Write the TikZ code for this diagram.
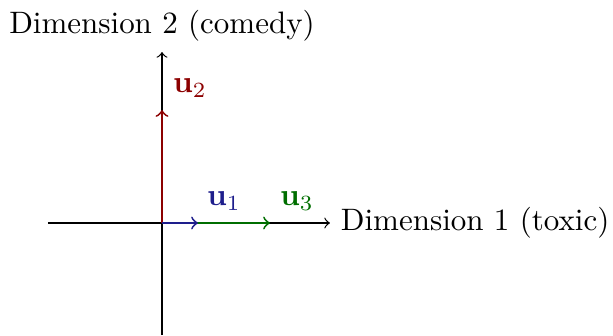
\documentclass[tikz,border=0pt]{standalone}
\usepackage{amsmath}
\definecolor{vred}{RGB}{140,0,0}
\definecolor{vblue}{RGB}{30,30,140}
\definecolor{vgreen}{RGB}{0,110,0}
\begin{document}
\begin{tikzpicture}[x=0.3226pt,y=-0.3226pt,
  axis/.style={->},
  vec/.style={->,semithick},
  lbl/.style={inner sep=0pt}]
\useasboundingbox (0,0) rectangle (613,335);
\coordinate (O) at (162,223);
\coordinate (xl) at (48,223);
\coordinate (xr) at (330,223);
\coordinate (yb) at (162,335);
\coordinate (yt) at (162,52);
\coordinate (u2t) at (162,110);
\coordinate (u1t) at (198,223);
\coordinate (u3t) at (270,223);
\draw[axis] (xl) -- (xr);
\draw[axis] (yb) -- (yt);
\node[anchor=west] (xlab) at (xr) {Dimension 1 (toxic)};
\node[anchor=south] (ylab) at (yt) {Dimension 2 (comedy)};
\draw[vec,vred] (O) -- (u2t);
\draw[vec,vgreen] (O) -- (u3t);
\draw[vec,vblue] (O) -- (u1t);
\node[lbl,text=vred] (u2) at (190,88) {$\mathbf{u}_2$};
\node[lbl,text=vblue] (u1) at (224,201) {$\mathbf{u}_1$};
\node[lbl,text=vgreen] (u3) at (297,201) {$\mathbf{u}_3$};
\end{tikzpicture}
\end{document}
